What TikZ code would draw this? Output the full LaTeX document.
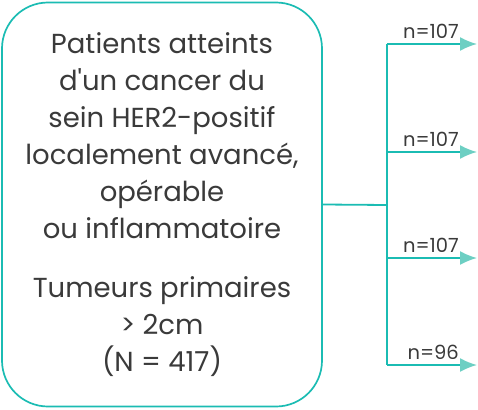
\documentclass[tikz,border=0pt]{standalone}
\usepackage{fontspec}
\setmainfont{Poppins}
\usetikzlibrary{arrows.meta, positioning}
\definecolor{vertTeal}{HTML}{1BBCB3}
\definecolor{vertClair}{HTML}{6DCFC3}
\definecolor{texteGris}{HTML}{3A3A3A}

\begin{document}
\begin{tikzpicture}[x=1pt, y=-1pt, >=Latex,
        cohorte/.style={draw=vertTeal, line width=1.7pt, rounded corners=46pt,
            minimum width=320pt, minimum height=404pt, align=center,
            text=texteGris, font=\fontsize{27.5}{37}\selectfont},
        branche/.style={vertTeal, line width=1.8pt},
        fleche/.style={branche, -{Latex[length=17pt, width=14pt, color=vertClair]}},
        effectif/.style={text=texteGris, font=\fontsize{19.5}{20}\selectfont, above left=1pt and 14pt}]
        \useasboundingbox (0,0) rectangle (478,409);
        \node[cohorte] (patients) at (162,204.5) {Patients atteints\\ d\textquotesingle un cancer du\\ sein HER2-positif\\
            localement avancé,\\ opérable\\ ou inflammatoire\\[22pt]
            Tumeurs primaires\\ > 2cm\\ (N = 417)};
        \coordinate (noeud) at (387,205);
        \coordinate (g1) at (477,44);
        \coordinate (g2) at (477,152);
        \coordinate (g3) at (477,258);
        \coordinate (g4) at (477,365);
        \draw[branche] (patients.east) -- (noeud);
        \draw[branche] (noeud |- g1) -- (noeud |- g4);
        \foreach \g/\n in {g1/107, g2/107, g3/107, g4/96}
            \draw[fleche] (noeud |- \g) -- (\g) node[effectif] {n=\n};
    \end{tikzpicture}
\end{document}
